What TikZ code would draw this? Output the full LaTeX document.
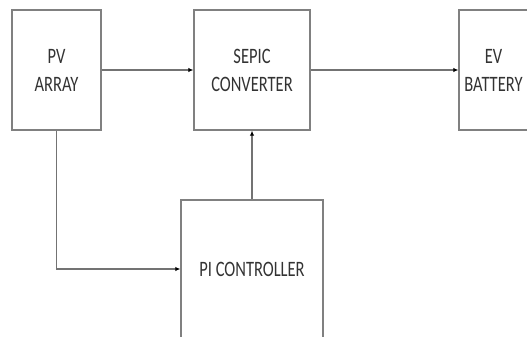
\documentclass[tikz,border=0pt]{standalone}
\usepackage{fontspec}
\newfontfamily\blockfont[FakeStretch=0.75]{Carlito}
\usetikzlibrary{arrows.meta, positioning}

\begin{document}
\begin{tikzpicture}[
    x=1pt, y=-1pt,
    block/.style={
        rectangle, draw=black!50, line width=1.4pt,
        text=black!80, align=center, inner sep=0pt,
        font=\blockfont\fontsize{22}{28}\selectfont
    },
    arrow/.style={-{Latex[length=5pt,width=4.5pt,fill=black,color=black]}, draw=black!55, line width=1.2pt}
]
\useasboundingbox (0,0) rectangle (527,337);

% Blocks
\node[block, minimum width=89pt, minimum height=120pt] (pv) at (56.5,70) {PV\\ARRAY};
\node[block, minimum width=116pt, minimum height=120pt] (sepic) at (252,70) {SEPIC\\CONVERTER};
\node[block, minimum width=69pt, minimum height=120pt] (ev) at (493.5,70) {EV\\BATTERY};
\node[block, minimum width=142pt, minimum height=138pt] (pi) at (252,269) {PI CONTROLLER};

% Arrows
\draw[arrow] (pv) -- (sepic);
\draw[arrow] (sepic) -- (ev);
\draw[arrow] (pv.south) |- (pi.west);
\draw[arrow] (pi) -- (sepic);

\end{tikzpicture}
\end{document}
